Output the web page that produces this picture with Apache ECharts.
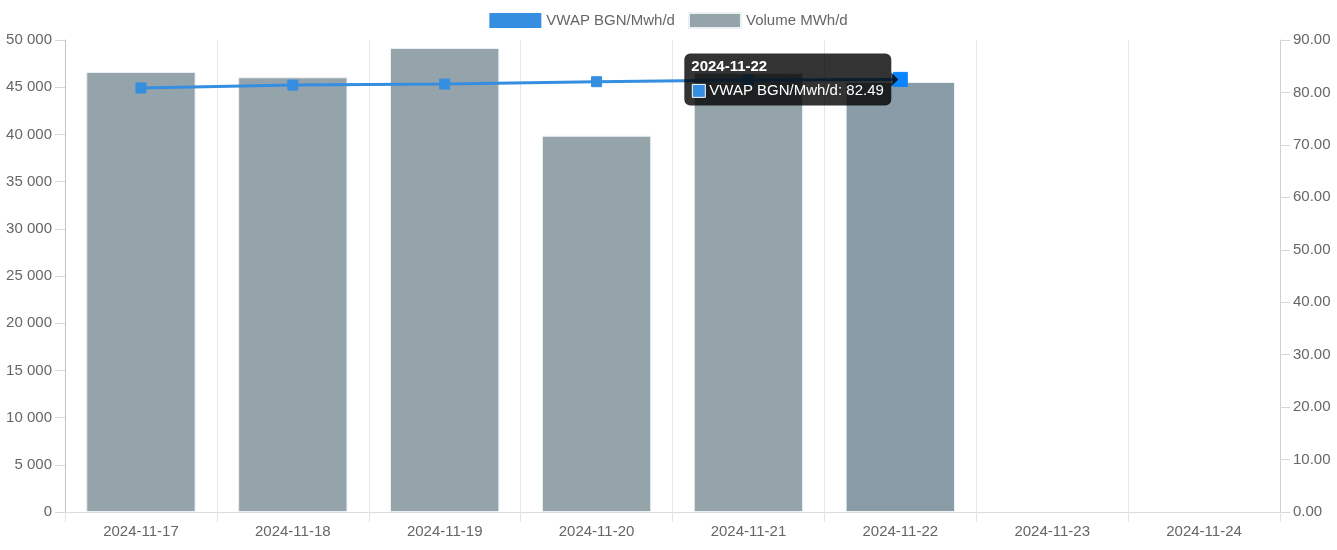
<!DOCTYPE html>
<html>
<head>
<meta charset="utf-8">
<script src="https://cdn.jsdelivr.net/npm/echarts@6/dist/echarts.min.js"></script>
<style>
html,body{margin:0;padding:0;background:#fff;}
#chart{width:1337px;height:550px;}
</style>
</head>
<body>
<div id="chart"></div>
<script>
const dates = ['2024-11-17','2024-11-18','2024-11-19','2024-11-20','2024-11-21','2024-11-22','2024-11-23','2024-11-24'];
const volume = [46620, 46050, 49150, 39860, 46500, 45550, null, null];
const vwap = [80.85, 81.40, 81.60, 82.05, 82.35, 82.49, null, null];
const hoverIndex = 5;

const FONT = 'Liberation Sans, Arial, Helvetica, sans-serif';
const chart = echarts.init(document.getElementById('chart'), null, {renderer:'canvas'});

function fmtThousands(v){
  return String(v).replace(/\B(?=(\d{3})+(?!\d))/g, ' ');
}

const barData = volume.map((v,i)=> i===hoverIndex ? {value:v, itemStyle:{color:'#8a9ca8'}} : v);
const lineData = vwap.map((v,i)=> i===hoverIndex ? {value:v, symbolSize:14, itemStyle:{color:'#0a84ff', borderColor:'#0a84ff'}} : v);

chart.setOption({
  animation:false,
  textStyle:{fontFamily:FONT},
  legend:{
    top:7, left:'center',
    itemWidth:52, itemHeight:15, itemGap:13,
    textStyle:{fontSize:15, color:'#666', fontFamily:FONT},
    data:[
      {name:'VWAP BGN/Mwh/d', icon:'rect', itemStyle:{color:'#368ee0'}},
      {name:'Volume MWh/d', icon:'rect', itemStyle:{color:'#95a3ab'}}
    ]
  },
  grid:{left:65, right:57, top:40, bottom:38, containLabel:false},
  xAxis:{
    type:'category', data:dates, boundaryGap:true,
    axisLine:{show:true, lineStyle:{color:'#dcdcdc', width:1}},
    axisTick:{show:true, alignWithLabel:false, length:10, lineStyle:{color:'#e2e2e2'}},
    axisLabel:{color:'#666', fontSize:15, margin:12, fontFamily:FONT},
    splitLine:{show:true, lineStyle:{color:'#e6e6e6', width:1}}
  },
  yAxis:[
    {
      type:'value', min:0, max:50000, interval:5000, position:'left',
      axisLine:{show:true, lineStyle:{color:'#c4c4c4'}},
      axisTick:{show:true, length:10, lineStyle:{color:'#d8d8d8'}},
      axisLabel:{color:'#666', fontSize:15, margin:13, fontFamily:FONT, formatter:fmtThousands},
      splitLine:{show:false}
    },
    {
      type:'value', min:0, max:90, interval:10, position:'right',
      axisLine:{show:true, lineStyle:{color:'#d0d0d0'}},
      axisTick:{show:true, length:10, lineStyle:{color:'#d8d8d8'}},
      axisLabel:{color:'#666', fontSize:15, margin:13, fontFamily:FONT, formatter:v=>v.toFixed(2)},
      splitLine:{show:false}
    }
  ],
  series:[
    {
      name:'Volume MWh/d', type:'bar', yAxisIndex:0, data:barData,
      barWidth:'72%',
      itemStyle:{color:'#95a3ab', borderColor:'#eef1f3', borderWidth:1},
      z:1
    },
    {
      name:'VWAP BGN/Mwh/d', type:'line', yAxisIndex:1, data:lineData,
      symbol:'rect', symbolSize:10, showAllSymbol:true,
      lineStyle:{color:'#368ee0', width:3},
      itemStyle:{color:'#368ee0', borderColor:'#368ee0'},
      z:5
    }
  ]
});

// Tooltip replica (Chart.js style) anchored to the hovered point
const pt = chart.convertToPixel({xAxisIndex:0, yAxisIndex:1}, [dates[hoverIndex], vwap[hoverIndex]]);
const boxW = 207, boxH = 52, caret = 7;
const bx = pt[0] - 9 - boxW, by = pt[1] - boxH/2;
const TZ = 1000;
chart.setOption({
  graphic:[
    {type:'rect', z:TZ, zlevel:2, shape:{x:bx, y:by, width:boxW, height:boxH, r:6}, style:{fill:'rgba(0,0,0,0.8)'}},
    {type:'polygon', z:TZ, zlevel:2, shape:{points:[[bx+boxW, pt[1]-caret],[bx+boxW+caret, pt[1]],[bx+boxW, pt[1]+caret]]}, style:{fill:'rgba(0,0,0,0.8)'}},
    {type:'text', z:TZ+1, zlevel:2, x:bx+7, y:by+13, style:{text:dates[hoverIndex], fill:'#fff', font:'bold 15px '+FONT, textVerticalAlign:'middle'}},
    {type:'rect', z:TZ+1, zlevel:2, shape:{x:bx+8, y:by+31, width:13, height:13}, style:{fill:'#368ee0', stroke:'#fff', lineWidth:1}},
    {type:'text', z:TZ+1, zlevel:2, x:bx+25, y:by+37, style:{text:'VWAP BGN/Mwh/d: '+vwap[hoverIndex].toFixed(2), fill:'#fff', font:'15px '+FONT, textVerticalAlign:'middle'}}
  ]
});
</script>
</body>
</html>
